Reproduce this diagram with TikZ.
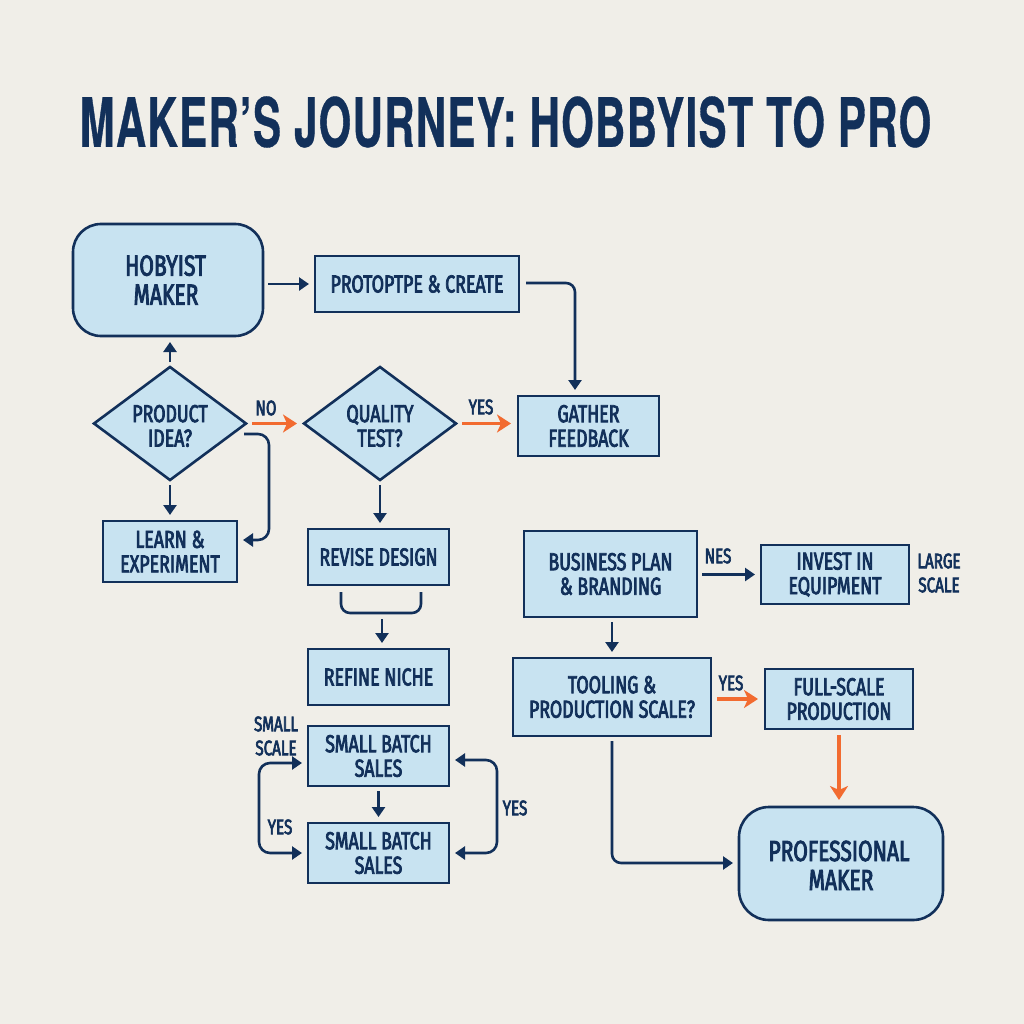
\documentclass[tikz,border=0pt]{standalone}
\usepackage{fontspec}
\setmainfont{Fira Sans}[FakeStretch=0.725,FakeBold=3]
\newfontfamily\titlefont{TeX Gyre Heros}[FakeStretch=0.616,FakeBold=0.5,LetterSpace=2]
\usetikzlibrary{arrows.meta,shapes.geometric}
\definecolor{ink}{HTML}{12305A}
\definecolor{fillb}{HTML}{C8E3F1}
\definecolor{bgc}{HTML}{F0EEE8}
\definecolor{orng}{HTML}{F26B30}
\newcommand{\fs}[2]{\fontsize{#1}{#2}\selectfont}
\newcommand{\low}{\rule{0pt}{22pt}}
\tikzset{
  x=1pt,y=-1pt,
  every node/.style={text=ink,align=center,inner sep=0,outer sep=0},
  base/.style={draw=ink,fill=fillb,line width=2.6pt,font=\fs{24.5}{24.5}},
  sq/.style={base,rectangle},
  rnd/.style={base,rectangle,rounded corners=28pt,font=\fs{29}{29}},
  dia/.style={base,diamond,shape aspect=1.336,minimum width=152pt,minimum height=113pt,line join=miter},
  lab/.style={font=\fs{21}{24}},
  arr/.style={draw=ink,line width=2.6pt,-{Triangle[length=10pt,width=13pt]},shorten <=5pt,shorten >=6pt},
  oarr/.style={draw=orng,line width=3.4pt,-{Stealth[length=14pt,width=18pt,inset=4pt]},shorten <=6pt,shorten >=7pt},
  plainl/.style={draw=ink,line width=2.6pt,rounded corners=9pt},
  twoway/.style={draw=ink,line width=2.6pt,{Triangle[length=10pt,width=13pt]}-{Triangle[length=10pt,width=13pt]},rounded corners=11pt,shorten <=6pt,shorten >=6pt}
}
\begin{document}
\begin{tikzpicture}
\useasboundingbox[fill=bgc] (0,0) rectangle (1024,1024);
\node[font=\titlefont\fs{68}{68}\bfseries] (title) at (505.5,122) {MAKER’S JOURNEY: HOBBYIST TO PRO};
\node[rnd,minimum width=190pt,minimum height=112pt] (hob) at (168,280) {HOBYIST\hspace*{5pt}\\MAKER\hspace*{4pt}};
\node[sq,minimum width=204pt,minimum height=56pt] (proto) at (417,284) {PROTOPTPE \& CREATE};
\node[dia] (prod) at (170,423.5) {\low PRODUCT\\IDEA?};
\node[dia] (qual) at (380,423.5) {\low QUALITY\\TEST?};
\node[sq,minimum width=141pt,minimum height=60pt] (gather) at (588.5,426) {GATHER\\FEEDBACK};
\node[sq,minimum width=134pt,minimum height=61pt] (learn) at (170,551.5) {LEARN \&\\EXPERIMENT};
\node[sq,minimum width=141pt,minimum height=56pt] (revise) at (378.5,557) {REVISE DESIGN};
\node[sq,minimum width=141pt,minimum height=56pt] (refine) at (378.5,677) {REFINE NICHE};
\node[sq,minimum width=141pt,minimum height=60pt] (sb1) at (378.5,756) {SMALL BATCH\\SALES};
\node[sq,minimum width=141pt,minimum height=60pt] (sb2) at (378.5,853) {SMALL BATCH\\SALES};
\node[sq,minimum width=173pt,minimum height=86pt] (biz) at (610.5,574) {BUSINESS PLAN\\\& BRANDING};
\node[sq,minimum width=148pt,minimum height=59pt] (inv) at (835,574.5) {INVEST IN\\EQUIPMENT};
\node[sq,minimum width=198pt,minimum height=78pt] (tool) at (612,697) {TOOLING \&\\PRODUCTION SCALE?};
\node[sq,minimum width=148pt,minimum height=60pt] (full) at (839,699) {FULL-SCALE\\PRODUCTION};
\node[rnd,minimum width=204pt,minimum height=113pt,rounded corners=30pt] (pro) at (841,863.5) {\rule{0pt}{24pt}PROFESSIONAL\hspace*{4pt}\\MAKER};
% labels
\node[lab] (lno) at (266,408) {NO};
\node[lab] (lyes1) at (481,407) {YES};
\node[lab] (lsmall) at (276,736) {SMALL\\SCALE};
\node[lab] (lyes2) at (280,827) {YES};
\node[lab] (lyes3) at (515,808) {YES};
\node[lab] (lnes) at (718,556) {NES};
\node[lab] (llarge) at (939,573) {LARGE\\SCALE};
\node[lab] (lyes4) at (731,683) {YES};
% coordinates for free ends and corners
\coordinate (c1) at (575,283);
\coordinate (c2) at (269,434);
\coordinate (c3) at (269,540);
\coordinate (b1) at (341,592);
\coordinate (b2) at (341,613);
\coordinate (b3) at (421,613);
\coordinate (b4) at (421,592);
\coordinate (d1) at (382,619);
\coordinate (d2) at (382,649);
\coordinate (ll1) at (259,763);
\coordinate (ll2) at (259,853);
\coordinate (rl1) at (497,760);
\coordinate (rl2) at (497,853);
\coordinate (c4) at (612,863);
% connectors
\draw[arr] (hob.east |- proto.west) -- (proto.west);
\draw[arr] (prod.north) -- (prod.north |- hob.south);
\draw[oarr] (prod.east) -- (qual.west);
\draw[oarr] (qual.east) -- (qual.east -| gather.west);
\draw[arr,rounded corners=9pt,shorten <=7pt] (proto.east |- c1) -- (c1) -- (c1 |- gather.north);
\draw[arr,rounded corners=11pt,shorten <=0pt] (244,434) -- (c2) -- (c3) -- (c3 -| learn.east);
\draw[arr] (prod.south) -- (prod.south |- learn.north);
\draw[arr] (qual.south) -- (qual.south |- revise.north);
\draw[plainl] (b1) -- (b2) -- (b3) -- (b4);
\draw[arr,shorten <=0pt] (d1) -- (d2 |- refine.north);
\draw[arr] (sb1.south) -- (sb2.north);
\draw[twoway] (sb1.west |- ll1) -- (ll1) -- (ll2) -- (ll2 -| sb2.west);
\draw[twoway] (sb1.east |- rl1) -- (rl1) -- (rl2) -- (rl2 -| sb2.east);
\draw[arr] (biz.east |- inv.west) -- (inv.west);
\draw[arr] (biz.south -| tool.north) -- (tool.north);
\draw[oarr] (tool.east |- full.west) -- (full.west);
\draw[oarr] (full.south) -- (full.south |- pro.north);
\draw[arr,rounded corners=9pt] (tool.south) -- (c4) -- (pro.west |- c4);
\end{tikzpicture}
\end{document}
